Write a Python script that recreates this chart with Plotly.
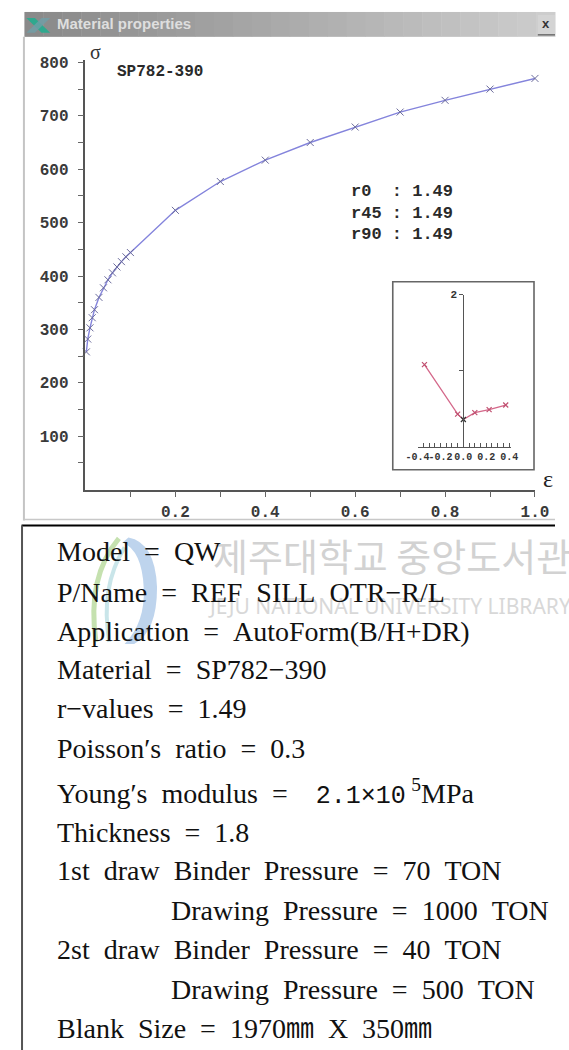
import plotly.graph_objects as go

W, H = 569, 1050


def px(x):
    return x / W


def py(y):
    return 1 - y / H


# flow curve of SP782-390 (strain vs stress)
strain = [0.002, 0.005, 0.01, 0.015, 0.02, 0.03, 0.04, 0.05, 0.06, 0.07, 0.08,
          0.09, 0.1, 0.2, 0.3, 0.4, 0.5, 0.6, 0.7, 0.8, 0.9, 1.0]
stress = [258, 282, 303, 322, 337, 360, 378, 393, 406, 417, 427,
          436, 444, 523, 577, 617, 650, 679, 707, 729, 750, 770]

# small inset curve
inset_x = [-0.34, -0.05, 0.0, 0.1, 0.225, 0.37]
inset_y = [1.08, 0.43, 0.36, 0.45, 0.49, 0.55]

y_tickvals = [50, 100, 150, 200, 250, 300, 350, 400, 450, 500, 550, 600, 650, 700, 750, 800]
y_ticktext = ["", "100", "", "200", "", "300", "", "400", "", "500", "", "600", "", "700", "", "800"]
x_tickvals = [0.1, 0.2, 0.3, 0.4, 0.5, 0.6, 0.7, 0.8, 0.9, 1.0]
x_ticktext = ["", "0.2", "", "0.4", "", "0.6", "", "0.8", "", "1.0"]

inset_xticks = [-0.4, -0.35, -0.3, -0.25, -0.2, -0.15, -0.1, -0.05, 0.0,
                0.05, 0.1, 0.15, 0.2, 0.25, 0.3, 0.35, 0.4]
inset_xtext = ["-0.4", "", "", "", "-0.2", "", "", "", "0.0",
               "", "", "", "0.2", "", "", "", "0.4"]

r_labels = ["r0\u00a0\u00a0: 1.49", "r45 : 1.49", "r90 : 1.49"]

info_lines = [
    "Model = QW",
    "P/Name = REF SILL OTR\u2212R/L",
    "Application = AutoForm(B/H+DR)",
    "Material = SP782\u2212390",
    "r\u2212values = 1.49",
    "Poisson\u2032s ratio = 0.3",
    "Young\u2032s modulus =",
    "Thickness = 1.8",
    "1st draw Binder Pressure = 70 TON",
    "Drawing Pressure = 1000 TON",
    "2st draw Binder Pressure = 40 TON",
    "Drawing Pressure = 500 TON",
    "Blank Size = 1970\u339c X 350\u339c",
]
info_y = [549, 590, 629, 668, 707, 747, 791, 831, 870, 910, 949, 989, 1028]
info_x = [45, 45, 45, 45, 45, 45, 45, 45, 45, 165, 45, 165, 45]

MONO = "Liberation Mono"
SERIF = "Liberation Serif"

fig = go.Figure()

fig.add_trace(go.Scatter(
    x=strain, y=stress, mode="lines+markers",
    line=dict(color="#8484dc", width=1.4),
    marker=dict(symbol="x-thin", size=7, line=dict(color="#6c6c9c", width=1)),
    cliponaxis=False, showlegend=False))

fig.add_trace(go.Scatter(
    x=inset_x, y=inset_y, mode="lines+markers", xaxis="x2", yaxis="y2",
    line=dict(color="#d4688a", width=1.3),
    marker=dict(symbol="x-thin", size=5,
                line=dict(color=["#c05070", "#c05070", "#333333", "#c05070", "#c05070", "#c05070"],
                          width=1.2)),
    cliponaxis=False, showlegend=False))

tickfont = dict(family=MONO, size=16, color="#3a3a3a", weight="bold")

fig.update_layout(
    width=W, height=H,
    margin=dict(l=0, r=0, t=0, b=0),
    paper_bgcolor="white", plot_bgcolor="rgba(0,0,0,0)",
    xaxis=dict(domain=[px(77), px(548)], range=[0, 1.0], showgrid=False, zeroline=False,
               showline=True, linecolor="#555555", linewidth=1.5,
               ticks="outside", ticklen=6, tickcolor="#666666", tickwidth=1.2,
               tickvals=x_tickvals, ticktext=x_ticktext, tickfont=tickfont,
               tickangle=0, anchor="y"),
    yaxis=dict(domain=[py(487), py(55)], range=[0, 805], showgrid=False, zeroline=False,
               showline=True, linecolor="#555555", linewidth=1.5,
               ticks="outside", ticklen=6, tickcolor="#666666", tickwidth=1.2,
               tickvals=y_tickvals, ticktext=y_ticktext, tickfont=tickfont,
               ticklabelstandoff=6, anchor="x"),
    xaxis2=dict(domain=[px(425), px(523)], range=[-0.4, 0.417], showgrid=False, zeroline=False,
                showline=True, linecolor="#555555", linewidth=1.2,
                ticks="inside", ticklen=4, tickcolor="#555555",
                tickvals=inset_xticks, ticktext=inset_xtext, tickangle=0,
                tickfont=dict(family=MONO, size=10, color="#333333", weight="bold"),
                anchor="y2"),
    yaxis2=dict(domain=[py(444), py(291)], range=[0, 2], showgrid=False, zeroline=False,
                showline=True, linecolor="#555555", linewidth=1.2,
                ticks="outside", ticklen=4, tickcolor="#555555",
                tickvals=[1, 2], ticktext=["", "2"],
                tickfont=dict(family=MONO, size=11, color="#333333", weight="bold"),
                anchor="free", position=px(473)),
)

shapes = []

# title bar (gradient stripes)
n = 28
x0, x1 = 13, 569
for i in range(n):
    t = i / (n - 1)
    g = int(138 + (205 - 138) * t)
    shapes.append(dict(type="rect", xref="paper", yref="paper",
                       x0=px(x0 + (x1 - x0) * i / n), x1=px(x0 + (x1 - x0) * (i + 1) / n + 0.5),
                       y0=py(32), y1=py(7), line=dict(width=0),
                       fillcolor=f"rgb({g},{g},{g})", layer="below"))

# title icon
shapes.append(dict(type="path", xref="paper", yref="paper",
                   path=f"M {px(15)} {py(13)} L {px(24)} {py(13)} L {px(40)} {py(28)} L {px(31)} {py(28)} Z",
                   fillcolor="#2fa88e", line=dict(width=0)))
shapes.append(dict(type="path", xref="paper", yref="paper",
                   path=f"M {px(15)} {py(28)} L {px(24)} {py(28)} L {px(40)} {py(13)} L {px(31)} {py(13)} Z",
                   fillcolor="#6f9fa8", line=dict(width=0), opacity=0.8))
# close button
shapes.append(dict(type="rect", xref="paper", yref="paper",
                   x0=px(551), x1=px(569), y0=py(30), y1=py(10),
                   fillcolor="#d4d4d4", line=dict(width=0)))
shapes.append(dict(type="line", xref="paper", yref="paper",
                   x0=px(551), x1=px(569), y0=py(30), y1=py(30),
                   line=dict(color="#555555", width=1.2)))

# window borders
shapes.append(dict(type="line", xref="paper", yref="paper",
                   x0=px(12.5), x1=px(12.5), y0=py(32), y1=py(518),
                   line=dict(color="#c4c4c4", width=2)))
shapes.append(dict(type="line", xref="paper", yref="paper",
                   x0=px(12), x1=px(569), y0=py(517), y1=py(517),
                   line=dict(color="#c8c8c8", width=1.5)))

# inset frame
shapes.append(dict(type="rect", xref="paper", yref="paper",
                   x0=px(399), x1=px(547), y0=py(467), y1=py(278),
                   fillcolor="white", line=dict(color="#666666", width=1.6), layer="below"))

# info box lines
shapes.append(dict(type="line", xref="paper", yref="paper",
                   x0=px(10), x1=px(569), y0=py(523), y1=py(523),
                   line=dict(color="black", width=2.2)))
shapes.append(dict(type="line", xref="paper", yref="paper",
                   x0=px(10.5), x1=px(10.5), y0=py(523), y1=py(1050),
                   line=dict(color="#555555", width=2)))

# faint library logo watermark
shapes.append(dict(type="path", xref="paper", yref="paper",
                   path=(f"M {px(122)} {py(535)} Q {px(150)} {py(540)} {px(152)} {py(585)} "
                         f"Q {px(152)} {py(630)} {px(128)} {py(642)} L {px(118)} {py(642)} "
                         f"Q {px(140)} {py(620)} {px(138)} {py(585)} Q {px(136)} {py(548)} {px(116)} {py(540)} Z"),
                   fillcolor="rgba(110,160,215,0.45)", line=dict(width=0), layer="below"))
shapes.append(dict(type="path", xref="paper", yref="paper",
                   path=f"M {px(112)} {py(536)} Q {px(78)} {py(575)} {px(88)} {py(640)}",
                   line=dict(color="rgba(150,200,110,0.55)", width=5), layer="below"))
shapes.append(dict(type="path", xref="paper", yref="paper",
                   path=f"M {px(118)} {py(545)} Q {px(92)} {py(585)} {px(102)} {py(640)}",
                   line=dict(color="rgba(120,190,200,0.4)", width=4), layer="below"))

fig.update_layout(shapes=shapes)

ann = []

ann.append(dict(x=px(45), y=py(19), xref="paper", yref="paper", xanchor="left", yanchor="middle",
                text="<b>Material properties</b>", showarrow=False,
                font=dict(family="Liberation Sans", size=15, color="#dedede")))
ann.append(dict(x=px(560), y=py(19), xref="paper", yref="paper", xanchor="center", yanchor="middle",
                text="<b>x</b>", showarrow=False,
                font=dict(family="Liberation Sans", size=13, color="#333333")))

ann.append(dict(x=px(87), y=py(47), xref="paper", yref="paper", xanchor="center", yanchor="middle",
                text="\u03c3", showarrow=False,
                font=dict(family=SERIF, size=20, color="#333333")))
ann.append(dict(x=px(562), y=py(476), xref="paper", yref="paper", xanchor="center", yanchor="middle",
                text="\u03b5", showarrow=False,
                font=dict(family=SERIF, size=24, color="#222222")))

ann.append(dict(x=px(108), y=py(67), xref="paper", yref="paper", xanchor="left", yanchor="middle",
                text="<b>SP782-390</b>", showarrow=False,
                font=dict(family=MONO, size=16, color="#2a2a2a")))

for i, lab in enumerate(r_labels):
    ann.append(dict(x=px(353), y=py(187 + 22 * i), xref="paper", yref="paper",
                    xanchor="left", yanchor="middle", text=f"<b>{lab}</b>", showarrow=False,
                    font=dict(family=MONO, size=17, color="#2a2a2a")))

# watermark text
ann.append(dict(x=px(209), y=py(552), xref="paper", yref="paper", xanchor="left", yanchor="middle",
                text="\uc81c\uc8fc\ub300\ud559\uad50 \uc911\uc559\ub3c4\uc11c\uad00", showarrow=False,
                font=dict(family="Noto Sans CJK KR", size=38, color="#d2d2d2")))
ann.append(dict(x=px(203), y=py(604), xref="paper", yref="paper", xanchor="left", yanchor="middle",
                text="JEJU NATIONAL UNIVERSITY LIBRARY", showarrow=False,
                font=dict(family="Noto Sans", size=21, color="#d8d8d8")))

for line, x, y in zip(info_lines, info_x, info_y):
    txt = line.replace(" ", "\u2002")
    if line.startswith("Young"):
        txt += ("\u2002\u2002<span style=\"font-family:'Liberation Mono';font-size:25px\">2.1\u00d710</span>"
                "\u2009<sup>5</sup>MPa")
    ann.append(dict(x=px(x), y=py(y), xref="paper", yref="paper", xanchor="left", yanchor="middle",
                    text=txt, showarrow=False,
                    font=dict(family=SERIF + ", Noto Sans CJK KR", size=28, color="#111111")))

fig.update_layout(annotations=ann)

fig.write_html("out.html", config={"displayModeBar": False},
               post_script="document.body.style.margin='0';document.body.style.overflow='hidden';")
